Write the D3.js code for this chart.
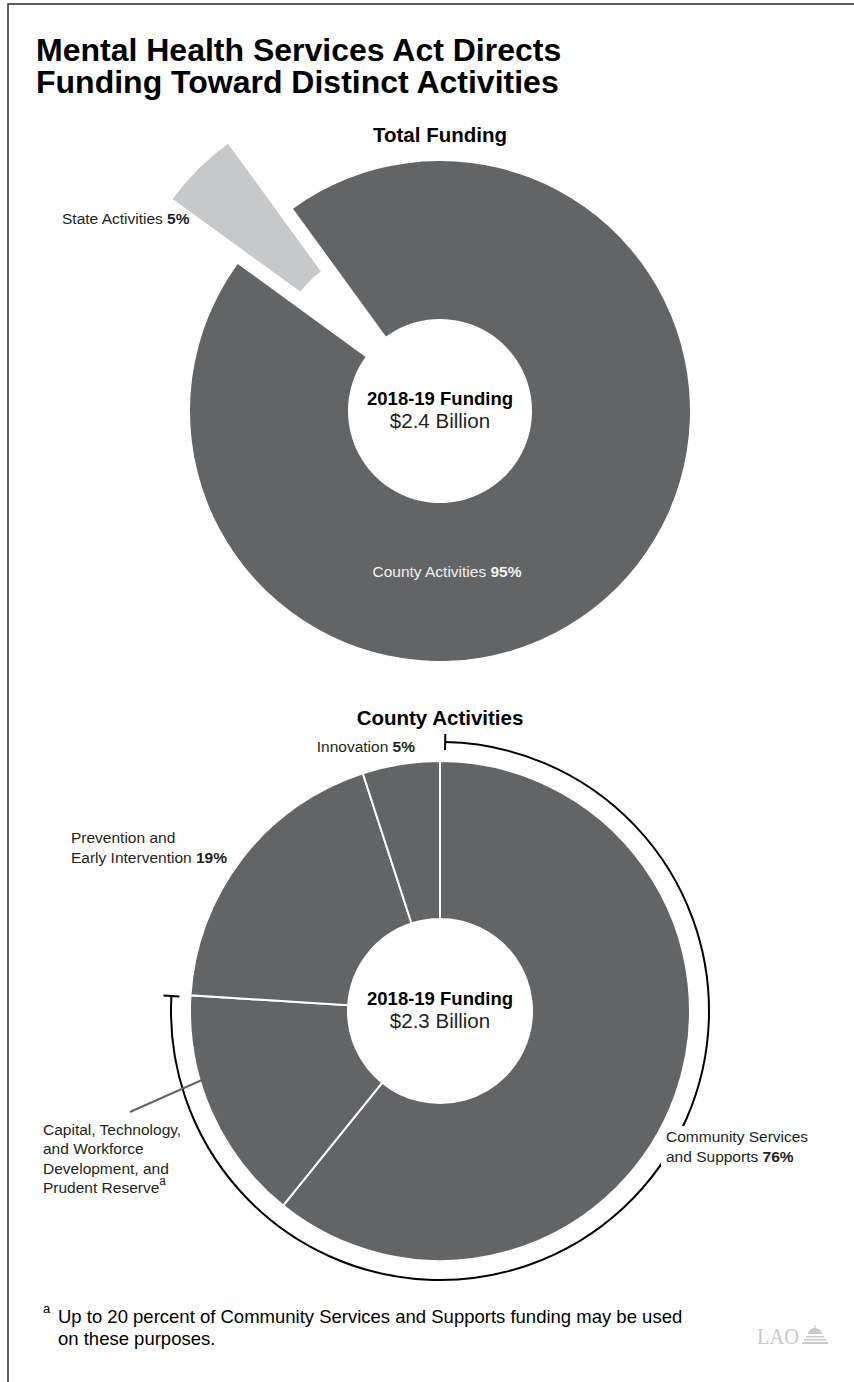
<!DOCTYPE html>
<html><head><meta charset="utf-8">
<script src="https://cdn.jsdelivr.net/npm/d3@7"></script>
<style>
html,body{margin:0;padding:0;background:#fff;}
svg{display:block;font-family:"Liberation Sans",Arial,Helvetica,sans-serif;}
</style></head>
<body>
<script>
// ---- data ----
const titleLines = ["Mental Health Services Act Directs", "Funding Toward Distinct Activities"];
const totalCategories = ["County Activities", "State Activities"];
const totalValues = [95, 5];
const totalLabelPct = ["95%", "5%"];
const totalCenter = ["2018-19 Funding", "$2.4 Billion"];
const countyCategories = ["Community Services and Supports", "Capital, Technology, and Workforce Development, and Prudent Reserve", "Prevention and Early Intervention", "Innovation"];
const countyValues = [60.8, 15.2, 19, 5];
const countyCenter = ["2018-19 Funding", "$2.3 Billion"];
const footnote = ["Up to 20 percent of Community Services and Supports funding may be used", "on these purposes."];

const W = 854, H = 1382;
const DARK = "#636466", LIGHT = "#c7c8ca", INK = "#231f20";
const deg = Math.PI / 180;

const svg = d3.select("body").append("svg").attr("width", W).attr("height", H);
svg.append("rect").attr("width", W).attr("height", H).attr("fill", "#fff");
svg.append("path").attr("d", `M8,${H} V4 H${W}`).attr("fill", "none").attr("stroke", "#2b2b2b").attr("stroke-width", 1.5);

// title (one text element, two lines)
const title = svg.append("text").attr("x", 36).attr("y", 61)
  .attr("font-size", 32).attr("font-weight", "bold").attr("fill", "#000");
title.selectAll("tspan").data(titleLines).join("tspan")
  .attr("x", 36).attr("dy", (d, i) => i === 0 ? 0 : 32).text(d => d);

// ---- Top chart: Total Funding ----
const R = 250, r = 92;
const arc = d3.arc().innerRadius(r).outerRadius(R);
const g1 = svg.append("g").attr("transform", "translate(440,411)");
svg.append("text").attr("x", 440).attr("y", 142).attr("text-anchor", "middle")
  .attr("font-size", 20.5).attr("font-weight", "bold").attr("fill", "#000").text("Total Funding");

const pie1 = d3.pie().sort(null).startAngle(-36 * deg).endAngle(324 * deg);
const arcs1 = pie1(totalValues);
const explode = 92;
g1.selectAll("path").data(arcs1).join("path")
  .attr("d", arc)
  .attr("fill", (d, i) => i === 0 ? DARK : LIGHT)
  .attr("transform", (d, i) => {
    if (i === 0) return null;
    const a = (d.startAngle + d.endAngle) / 2;
    return `translate(${explode * Math.sin(a)},${-explode * Math.cos(a)})`;
  });

// center labels
function centerText(g, lines) {
  g.append("text").attr("x", 0).attr("y", -6).attr("text-anchor", "middle")
    .attr("font-size", 18.5).attr("font-weight", "bold").attr("fill", "#000").text(lines[0]);
  g.append("text").attr("x", 0).attr("y", 17).attr("text-anchor", "middle")
    .attr("font-size", 20.5).attr("fill", INK).text(lines[1]);
}
centerText(g1, totalCenter);

function label(x, y, lines, pct, opts = {}) {
  const t = svg.append("text").attr("x", x).attr("y", y)
    .attr("font-size", opts.size || 15.5).attr("fill", opts.fill || INK)
    .attr("text-anchor", opts.anchor || "start");
  lines.forEach((ln, i) => {
    t.append("tspan").attr("x", x).attr("dy", i === 0 ? 0 : (opts.lh || 19.5)).text(ln);
    if (i === lines.length - 1) {
      if (pct) t.append("tspan").attr("font-weight", "bold").text(" " + pct);
      if (opts.sup) t.append("tspan").attr("font-size", 12).attr("dy", -8).text(opts.sup);
    }
  });
  return t;
}
label(62, 224, [totalCategories[1]], totalLabelPct[1]);
label(447, 577, [totalCategories[0]], totalLabelPct[0], {anchor: "middle", fill: "#f2f2f2"});

// ---- Bottom chart: County Activities ----
const cy2 = 1011;
const g2 = svg.append("g").attr("transform", `translate(440,${cy2})`);
svg.append("text").attr("x", 440).attr("y", 725).attr("text-anchor", "middle")
  .attr("font-size", 20.5).attr("font-weight", "bold").attr("fill", "#000").text("County Activities");

const pie2 = d3.pie().sort(null);
const arcs2 = pie2(countyValues);
g2.selectAll("path.slice").data(arcs2).join("path").attr("class", "slice")
  .attr("d", arc).attr("fill", DARK).attr("stroke", "#fff").attr("stroke-width", 2);
centerText(g2, countyCenter);

// bracket spanning Community Services and Supports (incl. capital portion)
const bStart = arcs2[0].startAngle + 1.1 * deg;
const bEnd = arcs2[1].endAngle - 0.4 * deg;
const rb = 269;
const p = d3.path();
p.arc(0, 0, rb, bStart - Math.PI / 2, bEnd - Math.PI / 2, false);
g2.append("path").attr("d", p.toString()).attr("fill", "none").attr("stroke", "#000").attr("stroke-width", 2);
[bStart, bEnd].forEach(a => {
  g2.append("line")
    .attr("x1", (rb - 8) * Math.sin(a)).attr("y1", -(rb - 8) * Math.cos(a))
    .attr("x2", (rb + 8) * Math.sin(a)).attr("y2", -(rb + 8) * Math.cos(a))
    .attr("stroke", "#000").attr("stroke-width", 2);
});

// leader line for capital slice
const la = arcs2[1].startAngle + 0.64 * (arcs2[1].endAngle - arcs2[1].startAngle);
g2.append("line")
  .attr("x1", (R - 4) * Math.sin(la)).attr("y1", -(R - 4) * Math.cos(la))
  .attr("x2", 130 - 440).attr("y2", 1112 - cy2)
  .attr("stroke", DARK).attr("stroke-width", 2);

label(415, 752, [countyCategories[3]], "5%", {anchor: "end"});
label(71, 843, ["Prevention and", "Early Intervention"], "19%", {lh: 20});
label(43, 1135, ["Capital, Technology,", "and Workforce", "Development, and", "Prudent Reserve"], null, {lh: 19.3, sup: "a"});
// white knock-out behind the Community Services label (bracket breaks around it)
svg.append("rect").attr("x", 661).attr("y", 1126).attr("width", 152).attr("height", 42).attr("fill", "#fff");
label(666, 1142, ["Community Services", "and Supports"], "76%", {lh: 19.5});

// footnote
svg.append("text").attr("x", 43).attr("y", 1313).attr("font-size", 13).attr("fill", "#000").text("a");
const fn = svg.append("text").attr("x", 58).attr("y", 1323).attr("font-size", 18.5).attr("fill", "#000");
fn.selectAll("tspan").data(footnote).join("tspan")
  .attr("x", 58).attr("dy", (d, i) => i === 0 ? 0 : 22).text(d => d);

// LAO logo
const logo = svg.append("g").attr("fill", "#c8c9cb");
logo.append("text").attr("x", 757).attr("y", 1344).attr("font-family", "'Liberation Serif',serif")
  .attr("font-size", 23).attr("textLength", 42).attr("lengthAdjust", "spacingAndGlyphs").text("LAO");
const lg = logo.append("g").attr("transform", "translate(815,1344)");
lg.append("rect").attr("x", -13).attr("y", -2).attr("width", 26).attr("height", 2);
lg.append("rect").attr("x", -11).attr("y", -5).attr("width", 22).attr("height", 1.5);
lg.append("rect").attr("x", -9).attr("y", -8).attr("width", 18).attr("height", 1.5);
lg.append("path").attr("d", "M-7,-10 A7,6 0 0 1 7,-10 Z");
lg.append("rect").attr("x", -0.6).attr("y", -19).attr("width", 1.2).attr("height", 4);
lg.append("rect").attr("x", -4).attr("y", -13).attr("width", 8).attr("height", 1.2);
</script>
</body></html>
